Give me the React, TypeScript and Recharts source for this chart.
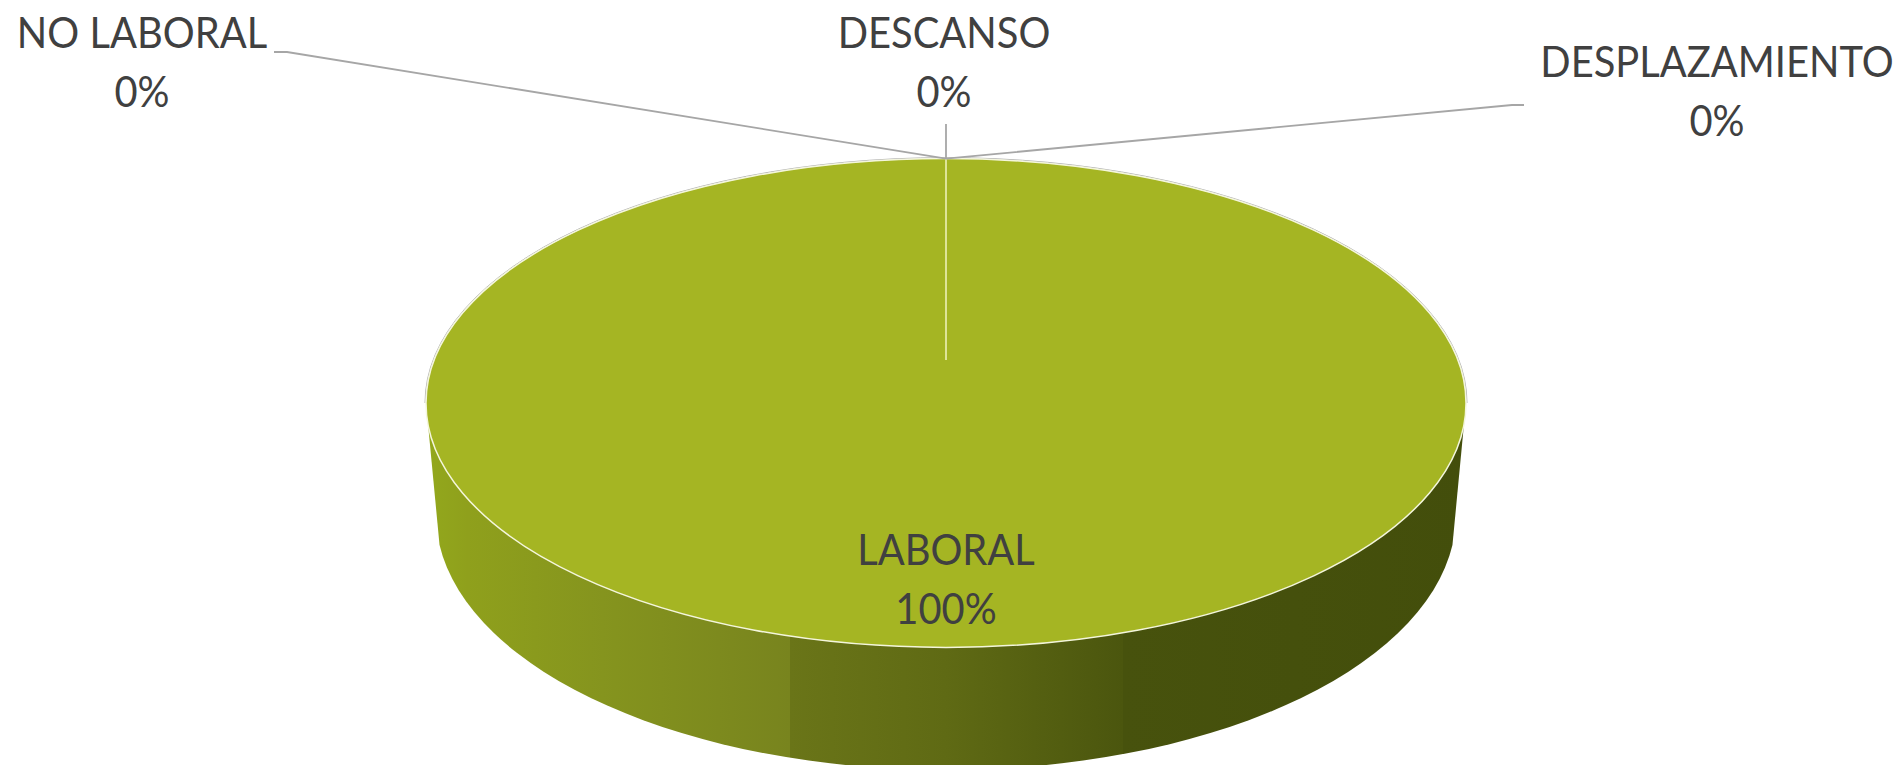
import { PieChart, Pie } from "recharts";

// One slice holds everything, the other three round to 0%
const categories = ["LABORAL", "NO LABORAL", "DESCANSO", "DESPLAZAMIENTO"];
const shares = [100, 0, 0, 0];
const data = categories.map((name, i) => ({ name, value: shares[i] }));

// Where each label block sits: text centre, first baseline and the elbow of its leader line
const labelSpots: Record<string, { x: number; y: number; line?: number[][] }> = {
  LABORAL: { x: 946, y: 565 },
  "NO LABORAL": { x: 142, y: 48, line: [[287, 52], [274, 52]] },
  DESCANSO: { x: 944, y: 48, line: [[946, 124]] },
  DESPLAZAMIENTO: { x: 1717, y: 77, line: [[1512, 105], [1524, 105]] },
};

const SQUASH = 0.47; // vertical squeeze of the tilted pie
const HUB_LIFT = 43; // the tilted centre sits above the middle of the ellipse
const WALL_DROP = 112;
const WALL_RX = 510;
const WALL_RY = 255;
const WALL_CORNER = 30; // the straight side meets the lower ellipse this far below its middle

const TopSlice = (props: any) => {
  const { cx, cy, outerRadius, startAngle, endAngle, fill } = props;
  const ry = outerRadius * SQUASH;
  if (Math.abs(endAngle - startAngle) >= 359.9) {
    return (
      <g>
        <path
          d={`M${cx - outerRadius - 1},${cy}A${outerRadius + 1},${ry + 1} 0 0 1 ${cx + outerRadius + 1},${cy}`}
          fill="none"
          stroke="#b4b4b4"
          strokeWidth={1}
        />
        <ellipse cx={cx} cy={cy} rx={outerRadius} ry={ry} fill={fill} stroke="#f4f6dc" strokeWidth={1.5} />
      </g>
    );
  }
  const a = (startAngle * Math.PI) / 180;
  return (
    <path
      d={`M${cx},${cy - HUB_LIFT}L${cx + outerRadius * Math.cos(a)},${cy - ry * Math.sin(a)}`}
      stroke="#dfe59a"
      strokeWidth={1.5}
      fill="none"
    />
  );
};

const WallSlice = (props: any) => {
  const { cx, cy, outerRadius, startAngle, endAngle } = props;
  if (Math.abs(endAngle - startAngle) < 359.9) return <g />;
  const y = cy + WALL_DROP + WALL_CORNER;
  const dx = WALL_RX * Math.sqrt(1 - (WALL_CORNER / WALL_RY) ** 2);
  return (
    <path
      d={`M${cx - outerRadius},${cy}L${cx - dx},${y}A${WALL_RX},${WALL_RY} 0 0 0 ${cx + dx},${y}L${cx + outerRadius},${cy}Z`}
      fill="url(#wallShade)"
    />
  );
};

const SliceLabel = (props: any) => {
  const { cx, cy, outerRadius, name, percent } = props;
  const spot = labelSpots[name];
  const apex = [cx, cy - outerRadius * SQUASH];
  const pts = spot.line ? [apex, ...spot.line] : [];
  const textProps = { textAnchor: "middle", fontFamily: "Lato", fontSize: 42, fill: "#404040" } as const;
  return (
    <g>
      {pts.length > 0 && (
        <polyline
          points={pts.map((p) => p.join(",")).join(" ")}
          fill="none"
          stroke="#a6a6a6"
          strokeWidth={1.8}
        />
      )}
      <text {...textProps} transform={`translate(${spot.x},${spot.y}) scale(0.95,1)`}>
        {name}
      </text>
      <text {...textProps} transform={`translate(${spot.x},${spot.y + 59}) scale(0.95,1)`}>
        {`${Math.round(percent * 100)}%`}
      </text>
    </g>
  );
};

export default function App() {
  return (
    <div style={{ position: "absolute", left: 0, top: 0, width: 1900, height: 765, overflow: "hidden" }}>
      <PieChart width={1900} height={765} margin={{ top: 0, right: 0, bottom: 0, left: 0 }}>
        <defs>
          <linearGradient id="wallShade" x1="0" y1="0" x2="1" y2="0">
            <stop offset="0" stopColor="#93a81c" />
            <stop offset="0.04" stopColor="#8fa01c" />
            <stop offset="0.17" stopColor="#85941e" />
            <stop offset="0.35" stopColor="#78841e" />
            <stop offset="0.35" stopColor="#6a7518" />
            <stop offset="0.5" stopColor="#5f6a14" />
            <stop offset="0.67" stopColor="#4b560e" />
            <stop offset="0.67" stopColor="#47520d" />
            <stop offset="1" stopColor="#434e0b" />
          </linearGradient>
        </defs>
        <Pie
          data={data}
          dataKey="value"
          nameKey="name"
          cx={946}
          cy={403}
          outerRadius={520}
          startAngle={90}
          endAngle={-270}
          stroke="none"
          shape={WallSlice}
          isAnimationActive={false}
        />
        <Pie
          data={data}
          dataKey="value"
          nameKey="name"
          cx={946}
          cy={403}
          outerRadius={520}
          startAngle={90}
          endAngle={-270}
          fill="#a5b523"
          shape={TopSlice}
          label={SliceLabel}
          labelLine={false}
          isAnimationActive={false}
        />
      </PieChart>
    </div>
  );
}
